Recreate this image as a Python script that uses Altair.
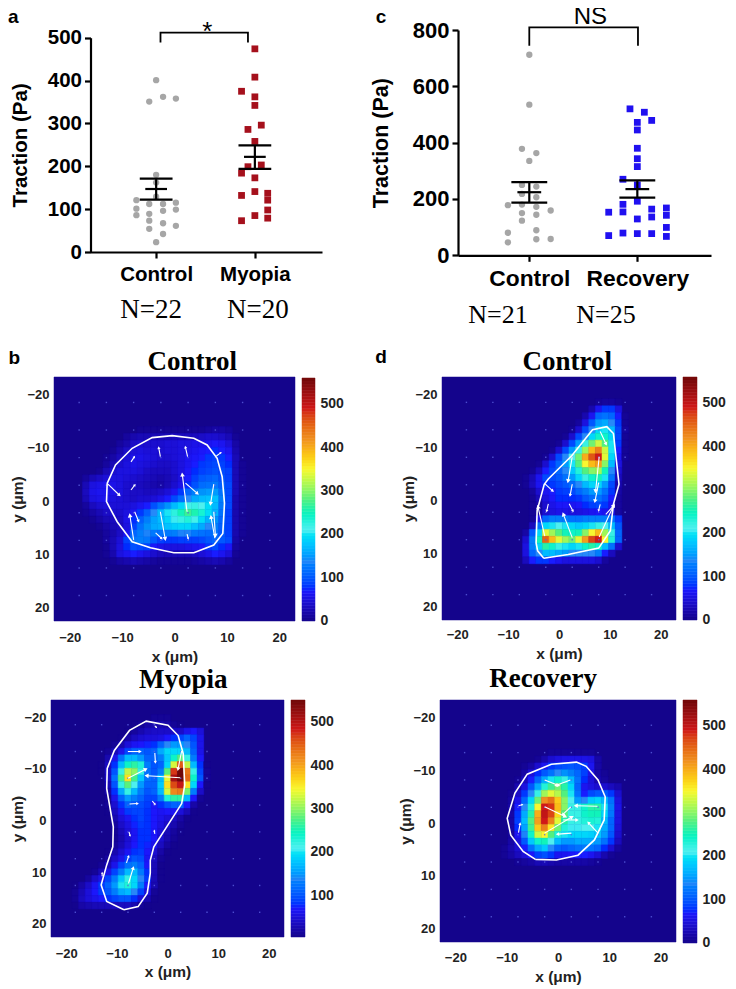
import math
import altair as alt
import pandas as pd

W, H = 720, 978
SANS = "Liberation Sans"
SERIF = "Liberation Serif"

# ---------- scatter data (Pa) ----------
a_ctrl_x = [1, 1.07, 1.2, .93, 1, 1, .8, .93, 1.07, 1.2, .8, 1.2, 1.07, .93, .8, .93, 1.07, 1.2, .93, 1.07, 1, 1]
a_ctrl_y = [401, 362, 358, 351, 180, 162, 121, 112, 112, 115, 101, 99, 96, 89, 86, 73, 67, 61, 54, 42, 23, 129]
a_myo_x = [2, 2, 1.865, 2, 2, 1.93, 2.065, 2, 1.93, 2.065, 1.865, 2, 1.865, 2, 2.13, 2.13, 2.13, 2.13, 2, 1.865]
a_myo_y = [474, 408, 375, 362, 342, 286, 296, 258, 199, 203, 184, 173, 132, 141, 137, 121, 98, 79, 85, 73]
a_stats = [(1, 147, 171, 122), (2, 222, 249, 194)]
a_bracket = [(1.044, 489), (1.044, 512), (1.93, 512), (1.93, 489)]

c_ctrl_x = [1, 1, .932, 1.065, 1, .932, 1.065, .932, 1.065, .802, .932, 1.065, 1.198, .932, 1.065, .932, 1.065, .802, 1.065, 1.198, .802]
c_ctrl_y = [712, 535, 378, 363, 335, 250, 244, 218, 206, 178, 180, 172, 159, 150, 144, 123, 89, 80, 57, 58, 46]
c_rec_x = [1.932, 2.065, 2.133, 2, 2, 2, 2, 2, 1.867, 2, 1.867, 2, 1.735, 1.867, 2.133, 2.269, 2.133, 2.269, 2, 2.269, 1.867, 2, 2.133, 1.735, 2.269]
c_rec_y = [520, 508, 479, 472, 445, 380, 343, 315, 270, 250, 181, 192, 153, 154, 164, 168, 136, 142, 129, 99, 79, 77, 77, 70, 67]
c_stats = [(1, 224, 260, 187), (2, 235, 266, 205)]
c_bracket = [(1, 744), (1, 809), (2.006, 809), (2.006, 744)]

# ---------- heat maps (Pa), nodes every 1.3 um; first column / first row in units of 1.3 um ----------
STEP = 1.3
heat_b1_start = (-14, -10)
heat_b1 = [
    [0, 0, 0, 0, 0, 0, 0, 0, 0, 5, 5, 5, 5, 5, 5, 5, 5, 5, 5, 10, 15, 15, 10, 0, 0],
    [0, 0, 0, 0, 0, 0, 0, 10, 20, 25, 25, 25, 25, 25, 30, 30, 30, 30, 35, 40, 40, 35, 25, 5, 0],
    [0, 0, 0, 0, 0, 0, 10, 20, 35, 40, 40, 40, 40, 45, 45, 50, 50, 55, 55, 60, 65, 60, 45, 15, 0],
    [0, 0, 0, 0, 0, 5, 20, 35, 45, 50, 45, 45, 40, 45, 45, 50, 55, 60, 65, 70, 75, 70, 60, 20, 0],
    [0, 0, 0, 0, 5, 15, 30, 45, 55, 55, 50, 45, 40, 40, 45, 50, 60, 65, 70, 80, 85, 80, 70, 25, 0],
    [0, 0, 0, 0, 10, 25, 40, 50, 55, 50, 45, 40, 35, 35, 40, 50, 60, 70, 80, 85, 90, 85, 75, 25, 5],
    [0, 0, 0, 5, 25, 40, 50, 50, 50, 45, 35, 30, 30, 30, 40, 50, 65, 75, 85, 90, 95, 90, 85, 25, 5],
    [0, 10, 25, 35, 45, 50, 50, 45, 40, 35, 30, 25, 20, 25, 35, 50, 70, 85, 100, 105, 110, 95, 85, 25, 5],
    [0, 25, 50, 55, 60, 55, 50, 40, 35, 30, 25, 20, 15, 25, 40, 55, 75, 95, 115, 120, 125, 105, 90, 25, 5],
    [0, 30, 55, 60, 60, 55, 50, 40, 35, 35, 30, 30, 35, 45, 60, 80, 110, 130, 145, 150, 150, 120, 90, 25, 5],
    [0, 25, 50, 55, 60, 50, 45, 40, 35, 40, 40, 45, 55, 70, 90, 115, 140, 160, 170, 175, 175, 130, 90, 20, 5],
    [0, 10, 30, 40, 45, 45, 45, 45, 50, 60, 70, 95, 120, 145, 170, 190, 215, 220, 210, 195, 170, 125, 90, 20, 5],
    [0, 5, 15, 25, 35, 40, 40, 50, 60, 80, 105, 140, 170, 200, 225, 250, 270, 255, 235, 195, 165, 120, 85, 20, 5],
    [0, 0, 5, 15, 25, 30, 35, 55, 75, 105, 130, 155, 170, 190, 205, 220, 230, 215, 195, 165, 145, 110, 85, 20, 5],
    [0, 0, 0, 5, 15, 25, 30, 50, 85, 120, 145, 160, 165, 175, 185, 190, 190, 175, 160, 140, 130, 105, 85, 20, 5],
    [0, 0, 0, 0, 10, 20, 35, 60, 110, 130, 135, 125, 120, 125, 130, 135, 135, 125, 120, 115, 120, 100, 85, 20, 5],
    [0, 0, 0, 0, 10, 25, 45, 85, 125, 130, 125, 100, 85, 80, 80, 85, 85, 85, 90, 100, 110, 100, 90, 15, 0],
    [0, 0, 0, 0, 5, 25, 50, 75, 95, 90, 85, 65, 55, 50, 50, 50, 55, 60, 65, 80, 90, 75, 65, 10, 0],
    [0, 0, 0, 0, 5, 20, 50, 60, 70, 60, 50, 40, 30, 25, 25, 25, 25, 35, 45, 55, 70, 60, 45, 5, 0],
    [0, 0, 0, 0, 0, 5, 15, 20, 25, 20, 15, 10, 5, 5, 5, 5, 5, 10, 15, 20, 25, 20, 10, 0, 0],
]
heat_d1_start = (-6, -14)
heat_d1 = [
    [0, 0, 0, 0, 0, 0, 0, 0, 0, 0, 0, 0, 5, 10, 10, 5, 0],
    [0, 0, 0, 0, 0, 0, 0, 0, 0, 0, 0, 20, 60, 80, 80, 50, 0],
    [0, 0, 0, 0, 0, 0, 0, 0, 0, 0, 20, 60, 110, 120, 110, 70, 5],
    [0, 0, 0, 0, 0, 0, 0, 0, 0, 10, 50, 100, 150, 160, 140, 80, 5],
    [0, 0, 0, 0, 0, 0, 0, 0, 5, 40, 90, 140, 190, 200, 170, 90, 10],
    [0, 0, 0, 0, 0, 0, 0, 5, 40, 90, 140, 190, 240, 240, 190, 90, 5],
    [0, 0, 0, 0, 0, 0, 5, 40, 90, 150, 220, 290, 330, 280, 200, 80, 5],
    [0, 0, 0, 0, 0, 5, 40, 90, 150, 220, 310, 390, 430, 330, 200, 70, 5],
    [0, 0, 0, 0, 5, 40, 90, 140, 210, 290, 400, 460, 490, 340, 190, 60, 5],
    [0, 0, 0, 5, 40, 80, 110, 150, 200, 280, 350, 390, 410, 300, 170, 50, 0],
    [0, 0, 5, 30, 70, 90, 110, 140, 180, 230, 280, 300, 310, 250, 140, 40, 0],
    [0, 5, 25, 60, 90, 90, 100, 120, 150, 190, 220, 240, 250, 200, 120, 30, 0],
    [0, 5, 30, 60, 75, 80, 90, 100, 115, 140, 170, 190, 190, 150, 90, 20, 0],
    [0, 0, 10, 40, 60, 70, 80, 85, 90, 110, 130, 150, 150, 120, 80, 15, 0],
    [0, 0, 5, 25, 50, 65, 75, 75, 75, 80, 100, 115, 120, 100, 70, 10, 0],
    [0, 0, 5, 15, 40, 55, 65, 65, 60, 65, 75, 85, 90, 80, 60, 10, 0],
    [0, 0, 5, 15, 40, 50, 55, 55, 50, 50, 55, 60, 65, 60, 50, 10, 0],
    [0, 0, 5, 60, 110, 130, 130, 130, 120, 120, 130, 130, 130, 130, 120, 80, 0],
    [0, 0, 30, 120, 190, 200, 210, 200, 190, 180, 190, 200, 220, 210, 170, 100, 0],
    [0, 15, 100, 190, 340, 310, 280, 250, 240, 250, 300, 350, 390, 310, 220, 110, 0],
    [0, 40, 130, 250, 450, 390, 340, 310, 290, 340, 410, 470, 490, 350, 230, 110, 0],
    [0, 50, 130, 190, 260, 240, 220, 200, 190, 200, 240, 260, 240, 170, 120, 40, 0],
    [0, 50, 110, 140, 170, 170, 160, 150, 140, 140, 140, 140, 130, 70, 30, 0, 0],
    [0, 30, 70, 80, 80, 70, 60, 50, 50, 50, 50, 50, 40, 10, 0, 0, 0],
]
heat_b2_start = (-14, -15)
heat_b2 = [
    [0, 0, 0, 0, 0, 0, 0, 0, 0, 0, 0, 0, 10, 10, 10],
    [0, 0, 0, 0, 0, 0, 0, 0, 0, 5, 10, 20, 25, 25, 20, 10, 5],
    [0, 0, 0, 0, 0, 0, 0, 0, 5, 15, 25, 35, 40, 40, 40, 40, 40, 60, 70, 50],
    [0, 0, 0, 0, 0, 0, 0, 5, 20, 35, 45, 50, 50, 55, 70, 80, 90, 110, 90, 60],
    [0, 0, 0, 0, 0, 0, 10, 25, 50, 65, 70, 75, 80, 110, 140, 150, 150, 140, 100, 60],
    [0, 0, 0, 0, 0, 10, 30, 60, 90, 110, 110, 100, 110, 160, 190, 190, 190, 170, 110, 60],
    [0, 0, 0, 0, 0, 25, 60, 120, 170, 170, 150, 110, 110, 130, 180, 240, 280, 220, 130, 70],
    [0, 0, 0, 0, 5, 35, 80, 170, 240, 260, 230, 130, 100, 110, 190, 330, 450, 320, 170, 80, 5],
    [0, 0, 0, 0, 5, 40, 100, 220, 320, 300, 220, 120, 100, 130, 280, 470, 550, 430, 220, 90, 10],
    [0, 0, 0, 0, 0, 40, 120, 270, 360, 270, 180, 120, 110, 170, 340, 510, 550, 440, 240, 100, 10],
    [0, 0, 0, 0, 0, 30, 100, 220, 280, 210, 150, 110, 110, 180, 360, 460, 490, 360, 190, 70, 5],
    [0, 0, 0, 0, 0, 20, 80, 160, 220, 170, 130, 100, 110, 170, 330, 420, 430, 290, 130, 40],
    [0, 0, 0, 0, 0, 10, 60, 110, 150, 130, 110, 90, 90, 130, 230, 260, 260, 170, 70, 10],
    [0, 0, 0, 0, 0, 10, 45, 80, 110, 100, 95, 85, 70, 80, 100, 110, 110, 70, 20],
    [0, 0, 0, 0, 0, 5, 35, 65, 85, 90, 90, 80, 70, 65, 70, 65, 50, 30, 5],
    [0, 0, 0, 0, 0, 0, 25, 50, 65, 80, 90, 80, 70, 60, 50, 35, 20, 5],
    [0, 0, 0, 0, 0, 0, 15, 40, 55, 75, 85, 80, 70, 55, 40, 25, 10],
    [0, 0, 0, 0, 0, 0, 10, 30, 50, 65, 80, 80, 70, 50, 30, 15, 5],
    [0, 0, 0, 0, 0, 0, 10, 25, 45, 65, 80, 80, 70, 45, 25, 10],
    [0, 0, 0, 0, 0, 0, 15, 30, 50, 70, 80, 75, 60, 35, 15, 5],
    [0, 0, 0, 0, 0, 5, 25, 45, 65, 80, 85, 70, 45, 20, 5],
    [0, 0, 0, 0, 0, 15, 40, 60, 85, 100, 95, 65, 35, 10],
    [0, 0, 0, 0, 10, 30, 60, 90, 120, 130, 110, 70, 30, 5],
    [0, 0, 0, 10, 30, 60, 90, 130, 170, 170, 130, 80, 30, 5],
    [0, 0, 15, 40, 60, 90, 130, 180, 220, 190, 140, 85, 30, 5],
    [5, 20, 40, 65, 85, 110, 150, 200, 230, 190, 130, 70, 25],
    [10, 30, 50, 70, 85, 100, 130, 160, 170, 140, 90, 50, 10],
    [10, 35, 50, 60, 70, 80, 90, 100, 100, 80, 50, 25, 5],
    [5, 20, 25, 30, 30, 30, 35, 35, 35, 25, 10, 5],
]
heat_d2_start = (-10, -10)
heat_d2 = [
    [0, 0, 0, 0, 0, 0, 0, 0, 0, 5, 5, 5, 5, 5, 5, 5],
    [0, 0, 0, 0, 0, 0, 0, 5, 20, 40, 50, 55, 55, 55, 55, 50, 15],
    [0, 0, 0, 0, 0, 5, 15, 40, 60, 80, 90, 95, 100, 95, 85, 60, 15],
    [0, 0, 0, 0, 0, 15, 45, 75, 100, 120, 140, 145, 130, 110, 85, 55, 15, 5],
    [0, 0, 0, 0, 5, 30, 70, 110, 160, 200, 240, 220, 170, 120, 75, 45, 20, 10],
    [0, 0, 0, 0, 20, 50, 100, 160, 230, 270, 290, 260, 190, 110, 60, 50, 40, 40, 30, 20],
    [0, 0, 0, 5, 35, 80, 140, 220, 310, 340, 320, 280, 200, 120, 70, 90, 100, 100, 80, 40],
    [0, 0, 0, 10, 55, 110, 190, 290, 420, 440, 380, 300, 210, 150, 140, 180, 190, 170, 120, 50],
    [0, 0, 0, 15, 70, 140, 230, 350, 490, 480, 390, 300, 220, 220, 240, 260, 260, 200, 130, 55],
    [0, 0, 0, 15, 80, 160, 260, 400, 500, 470, 370, 280, 220, 220, 240, 250, 250, 190, 125, 50],
    [0, 0, 0, 15, 85, 170, 280, 410, 490, 430, 340, 260, 220, 220, 230, 235, 230, 170, 110, 50],
    [0, 0, 0, 15, 75, 155, 270, 380, 430, 360, 290, 230, 205, 205, 210, 210, 200, 160, 110, 45],
    [0, 0, 0, 10, 60, 135, 240, 330, 350, 280, 230, 200, 190, 190, 190, 185, 180, 150, 100, 40],
    [0, 0, 0, 15, 50, 100, 180, 240, 250, 210, 170, 150, 150, 160, 160, 160, 150, 120, 80, 30],
    [0, 0, 5, 20, 40, 70, 120, 160, 180, 140, 110, 100, 110, 120, 125, 120, 110, 75, 40, 10],
    [0, 0, 5, 15, 30, 45, 65, 85, 95, 80, 60, 60, 65, 70, 70, 60, 45, 20, 5],
    [0, 0, 0, 0, 5, 10, 15, 25, 25, 20, 15, 15, 15, 15, 15, 10, 5],
]

# ---------- cell outlines (um) ----------
line_b1 = [(-12.85, -2.96), (-11.26, -6.42), (-8.08, -9.56), (-4.26, -11.57), (-.45, -11.95), (3.69, -11.45), (6.23, -10.19), (8.14, -7.67), (9.1, -4.21), (9.54, .82), (9.22, 6.48), (7.5, 8.68), (3.69, 10.13), (-.13, 10.13), (-4.58, 9.18), (-8.08, 8.05), (-10.94, 4.28), (-12.98, .5), (-12.85, -2.96)]
line_d1 = [(-3, 11.3), (-4.2, 9.9), (-4.5, 8.4), (-4.3, 2.3), (-2.9, -2.7), (-2.1, -3.7), (2.5, -8.1), (6.6, -13), (9.4, -13.6), (10.7, -12.3), (11.8, -2.7), (10.7, 1.1), (10.1, 6.1), (7.8, 9.4), (1.8, 10.6), (-3, 11.3)]
line_b2 = [(-8.6, 17.7), (-5.8, 17.1), (-4, 14.5), (-3.4, 10.6), (-3.4, 8.1), (-2.7, 5.5), (2.8, -2.9), (3.4, -6.5), (3.1, -12.6), (2.1, -16.1), (.1, -18.1), (-4.2, -18.9), (-7.5, -17.1), (-10.5, -13.2), (-11.9, -9.7), (-12, -5.8), (-10.7, 1.6), (-10.8, 5.5), (-12, 9), (-13.1, 12.9), (-12, 16.1), (-8.6, 17.7)]
line_d2 = [(-4.4, 7.3), (-.3, 7.4), (3.9, 6.5), (7.1, 3.6), (9, -.2), (9.2, -4.6), (7.8, -7.8), (5.5, -10.4), (3.6, -11.2), (-1.3, -10.8), (-6, -8.9), (-8.4, -5.3), (-9.9, -.5), (-9.2, 2.7), (-6.8, 5.8), (-4.4, 7.3)]

# ---------- traction arrows: x0, y0, x1, y1 (um) ----------
arrows_b1 = [(2.4, 2.4, 1.5, -4.5), (2.1, -3, 4.3, -1.1), (7.5, -2.8, 6.9, .8), (7.7, 7.4, 7, 3.5), (7.5, 2.4, 7.8, 6.8), (-7.8, 7.7, -8.5, 3.2), (-7.6, 2.4, -6.9, 4.1), (-2.7, 2.4, -1.8, 7.4), (-3.6, 6.4, -2.5, 7.4), (2.4, 6.6, 2.6, 7.4), (-12.7, -2.8, -10.6, -.8), (-8.3, -1.7, -7.6, -2.6), (-8.3, -7, -7.7, -7.9), (-2.7, -8, -3, -9.6), (2.5, -8, 2.1, -9.7), (8, -8.1, 8.8, -8.7)]
arrows_d1 = [(2.6, -7.9, 1.8, -3.4), (7.9, -7.9, 7.2, -1.5), (8.1, -12.7, 9.2, -10.4), (7.8, -3, 7.1, .4), (-2.8, -2.8, -1.3, -1.5), (2.6, -2.7, 2.2, -.7), (-2.1, 1, -2.4, 2.3), (2, 1, 2.7, 2.3), (8.1, 1.1, 7.8, 2.2), (-2.8, 7.1, -4.1, 1.7), (2.6, 7.4, .9, 3.1), (7.9, 7.3, 10.7, 1.4), (9.2, 3, 10.7, 1.4)]
arrows_b2 = [(2.5, -7.9, -4, -8.3), (-7.8, -7.8, -4.4, -9.5), (2.8, -13.1, 2.1, -9.7), (-7.8, -13, -5.5, -13), (-2.5, -12.7, -2.4, -11), (-2.5, -18, -2.2, -17.7), (-7.5, -2.8, -6, -2.9), (-3, -3.4, -2.5, -2.8), (-7.6, 2.6, -7.4, 3.3), (-2.5, 3, -2.6, 2.4), (-8.1, 8.6, -7.7, 7.4), (-7.7, 12.6, -6.8, 9.7), (-12.9, 11.2, -12.9, 10.6)]
arrows_d2 = [(-2.6, -2.7, 1.3, -.9), (-2.6, 2.3, 2.6, -.7), (-2.6, -7.8, 0, -6.8), (2.4, -7.8, -.3, -6.8), (7.7, -2.8, 3.6, -2.9), (2.5, -2.7, 1, -1.3), (2.6, 2.3, 0, 2.5), (7.8, 2.3, 6, .4), (1, -.2, 3.6, -.2), (-7.7, 2.2, -7.4, .6), (-7.7, -2.9, -7, -3.1)]

JET = ["#14048c", "#1c18ff", "#2a88f8", "#50f0f0", "#50f080", "#f8f830", "#f09020", "#d01818", "#700808"]
TICKS = [-20, -10, 0, 10, 20]


def frame(x, y, **extra):
    return pd.DataFrame({"x": x, "y": y, **extra})


def scatter_panel(groups, stats, bracket, notes, px_left, px_right, px_top, px_bottom, xdom, ymax, yvals,
                  tick_fs, cat_fs, title_fs, cats, tpad):
    xs = alt.Scale(domain=xdom, range=[px_left - 8, px_right - 8], nice=False)
    ys = alt.Scale(domain=[0, ymax], range=[px_bottom - 8, px_top - 8], nice=False)
    xe = alt.X("x:Q", scale=xs, axis=None)
    ye = alt.Y("y:Q", scale=ys, axis=None)
    expr = f"datum.value == 1 ? '{cats[0]}' : '{cats[1]}'"
    axes = alt.Chart(frame([1, 2], [0, 0])).mark_point(opacity=0).encode(
        x=alt.X("x:Q", scale=xs, title=None, axis=alt.Axis(
            values=[1, 2], labelExpr=expr, orient="bottom", offset=px_bottom - 8 - H, grid=False,
            domainColor="black", domainWidth=2.2, tickColor="black", tickWidth=2.2, tickSize=6,
            labelFont=SANS, labelFontWeight="bold", labelFontSize=cat_fs, labelColor="black", labelPadding=6)),
        y=alt.Y("y:Q", scale=ys, title="Traction (Pa)", axis=alt.Axis(
            values=yvals, orient="left", offset=-(px_left - 8), grid=False, domainColor="black", domainWidth=2.2,
            tickColor="black", tickWidth=2.2, tickSize=6, labelFont=SANS, labelFontWeight="bold",
            labelFontSize=tick_fs, labelColor="black", labelPadding=3, titleFont=SANS, titleFontWeight="bold",
            titleFontSize=title_fs, titleColor="black", titlePadding=tpad)),
    )
    layers = [axes]
    for gx, gy, shape, color, size in groups:
        layers.append(alt.Chart(frame(gx, gy)).mark_point(shape=shape, filled=True, color=color, size=size, opacity=1).encode(x=xe, y=ye))
    rows = []
    for c, m, u, l in stats:
        rows += [dict(x=c - .166, x2=c + .166, y=u, y2=u), dict(x=c - .166, x2=c + .166, y=l, y2=l),
                 dict(x=c - .11, x2=c + .11, y=m, y2=m), dict(x=c, x2=c, y=l, y2=u)]
    layers.append(alt.Chart(pd.DataFrame(rows)).mark_rule(color="black", strokeWidth=2.2).encode(x=xe, x2="x2:Q", y=ye, y2="y2:Q"))
    layers.append(alt.Chart(frame([p[0] for p in bracket], [p[1] for p in bracket], o=list(range(4)))).mark_line(color="black", strokeWidth=1.8).encode(x=xe, y=ye, order="o:Q"))
    for text, x, y, font, size, weight in notes:
        layers.append(alt.Chart(frame([x], [y], t=[text])).mark_text(font=font, fontSize=size, fontWeight=weight, color="black", baseline="middle", align="center").encode(x=xe, y=ye, text="t:N"))
    return layers


def heat_panel(grid, start, outline, arrows, notes, left, right, top, bottom, dom, bar_vals, bar, lab_x, tpad_x, tpad_y):
    xs = alt.Scale(domain=[-23, 23], range=[left - 8, right - 8], nice=False)
    ys = alt.Scale(domain=[-23, 23], range=[top - 8, bottom - 8], nice=False)
    xe = alt.X("x:Q", scale=xs, axis=None)
    ye = alt.Y("y:Q", scale=ys, axis=None)
    lo, hi = dom
    stops = [lo + (hi - lo) * f for f in (0, .125, .25, .375, .5, .625, .75, .875, 1)]
    cs = alt.Scale(domain=stops, range=JET, clamp=True)
    rows = [dict(x=-23, x2=23, y=-23, y2=23, v=lo)]
    for j, row in enumerate(grid):
        yv = (start[1] + j) * STEP
        for i, val in enumerate(row):
            if val > 0:
                xv = (start[0] + i) * STEP
                rows.append(dict(x=xv - STEP / 2, x2=xv + STEP / 2, y=yv - STEP / 2, y2=yv + STEP / 2, v=max(val, lo)))
    base = alt.Chart(pd.DataFrame(rows)).mark_rect(strokeWidth=0.5, opacity=1).encode(
        x=alt.X("x:Q", scale=xs, title="x (μm)", axis=alt.Axis(
            values=TICKS, orient="bottom", offset=bottom - 8 - H, grid=False, ticks=False, domain=False,
            labelFont=SANS, labelFontWeight="bold", labelFontSize=13, labelColor="#222", labelPadding=lab_x,
            titleFont=SANS, titleFontWeight="bold", titleFontSize=15.5, titleColor="#222", titlePadding=tpad_x)),
        x2="x2:Q",
        y=alt.Y("y:Q", scale=ys, title="y (μm)", axis=alt.Axis(
            values=TICKS, orient="left", offset=-(left - 8), grid=False, ticks=False, domain=False,
            labelFont=SANS, labelFontWeight="bold", labelFontSize=13, labelColor="#222", labelPadding=5, labelOffset=2,
            titleFont=SANS, titleFontWeight="bold", titleFontSize=15.5, titleColor="#222", titlePadding=tpad_y)),
        y2="y2:Q",
        color=alt.Color("v:Q", scale=cs, legend=None),
        stroke=alt.Stroke("v:Q", scale=cs, legend=None),
    )
    layers = [base]
    # colour bar, drawn through the same colour scale with its own value axis
    x0, x1, bt, bb = bar
    bx = alt.Scale(domain=[0, 1], range=[x0 - 8, x1 - 8], nice=False)
    by = alt.Scale(domain=[lo, hi], range=[bb - 8, bt - 8], nice=False)
    bstep = (hi - lo) / 80
    levels = [lo + k * bstep for k in range(80)]
    layers.append(alt.Chart(pd.DataFrame({"a": [0] * 80, "b": [1] * 80, "v": levels, "w": [l + bstep for l in levels], "m": [l + bstep / 2 for l in levels]})).mark_rect(strokeWidth=0.5).encode(
        x=alt.X("a:Q", scale=bx, axis=None), x2="b:Q",
        y=alt.Y("v:Q", scale=by, title=None, axis=alt.Axis(
            values=bar_vals, orient="right", offset=x1 - 8 - W, grid=False, ticks=False, domain=False,
            labelFont=SANS, labelFontWeight="bold", labelFontSize=14, labelColor="#222", labelPadding=5)),
        y2="w:Q",
        color=alt.Color("m:Q", scale=cs, legend=None),
        stroke=alt.Stroke("m:Q", scale=cs, legend=None),
    ))
    nodes = [(x, y) for x in (-18.2, -13, -7.8, -2.6, 2.6, 7.8, 13, 18.2) for y in (-18.2, -13, -7.8, -2.6, 2.6, 7.8, 13, 18.2)]
    layers.append(alt.Chart(frame([n[0] for n in nodes], [n[1] for n in nodes])).mark_point(shape="square", filled=True, color="#5a60e0", size=2, opacity=.8).encode(x=xe, y=ye))
    layers.append(alt.Chart(frame([p[0] for p in outline], [p[1] for p in outline], o=list(range(len(outline))))).mark_line(color="white", strokeWidth=1.6).encode(x=xe, y=ye, order="o:Q"))
    ar = pd.DataFrame(arrows, columns=["x", "y", "x2", "y2"])
    ar["len"] = ((ar.x2 - ar.x) ** 2 + (ar.y2 - ar.y) ** 2) ** .5
    ar["ang"] = [math.degrees(math.atan2(a.x2 - a.x, -(a.y2 - a.y))) % 360 for a in ar.itertuples()]
    ar["sz"] = (ar.len * 5 + 2).clip(upper=22)
    layers.append(alt.Chart(ar).mark_rule(color="white", strokeWidth=1.1).encode(x=xe, x2="x2:Q", y=ye, y2="y2:Q"))
    layers.append(alt.Chart(ar).mark_point(shape="triangle", filled=True, color="white", opacity=1).encode(
        x=alt.X("x2:Q", scale=xs, axis=None), y=alt.Y("y2:Q", scale=ys, axis=None),
        angle=alt.Angle("ang:Q", scale=None), size=alt.Size("sz:Q", scale=None)))
    for text, x, y, font, size, weight in notes:
        layers.append(alt.Chart(frame([x], [y], t=[text])).mark_text(font=font, fontSize=size, fontWeight=weight, color="black", baseline="middle", align="center").encode(x=xe, y=ye, text="t:N"))
    return layers


layers = []
layers += scatter_panel(
    [(a_ctrl_x, a_ctrl_y, "circle", "#a6a6a6", 40), (a_myo_x, a_myo_y, "square", "#a5101c", 46)],
    a_stats, a_bracket,
    [("a", -.447, 548, SANS, 19, "bold"), ("*", 1.517, 514, SANS, 26, "normal"),
     ("N=22", .95, -135, SERIF, 27, "normal"), ("N=20", 2.03, -135, SERIF, 27, "normal")],
    90.5, 322, 37.7, 252, [.335, 2.68], 500, [0, 100, 200, 300, 400, 500], 20.5, 20.5, 20.5, ["Control", "Myopia"], 17)
layers += scatter_panel(
    [(c_ctrl_x, c_ctrl_y, "circle", "#a6a6a6", 40), (c_rec_x, c_rec_y, "square", "#2010f0", 46)],
    c_stats, c_bracket,
    [("c", -.373, 846, SANS, 19, "bold"), ("NS", 1.565, 846, SANS, 24, "normal"),
     ("N=21", .71, -212, SERIF, 26, "normal"), ("N=25", 1.71, -212, SERIF, 26, "normal")],
    458, 711, 30, 255.3, [.34, 2.682], 800, [0, 200, 400, 600, 800], 22, 22.8, 21.5, ["Control", "Recovery"], 20)

VALS = [0, 100, 200, 300, 400, 500]
layers += heat_panel(heat_b1, heat_b1_start, line_b1, arrows_b1,
                     [("Control", 3.4, -25.9, SERIF, 27, "bold"), ("b", -30.6, -26.6, SANS, 19, "bold")],
                     54, 295, 377, 621, (-1, 560), VALS, (302, 315, 378, 621), 10, 5, 1)
layers += heat_panel(heat_d1, heat_d1_start, line_d1, arrows_d1,
                     [("Control", 1.6, -25.8, SERIF, 27, "bold"), ("d", -35, -26.8, SANS, 19, "bold")],
                     442, 676, 377, 620, (-1, 560), VALS, (683, 697, 377, 620), 8, 5, -2)
layers += heat_panel(heat_b2, heat_b2_start, line_b2, arrows_b2,
                     [("Myopia", 3.1, -26.9, SERIF, 27, "bold")],
                     51, 284, 700, 937, (4, 550), VALS[1:], (291, 305, 700, 937), 10, 4, -2)
layers += heat_panel(heat_d2, heat_d2_start, line_d2, arrows_d2,
                     [("Recovery", -2.9, -26.9, SERIF, 27, "bold")],
                     440, 676, 700, 942, (-1, 560), VALS, (683, 697, 700, 943), 9, 5, -1)

chart = (
    alt.layer(*layers)
    .resolve_scale(x="independent", y="independent", color="independent", stroke="independent", size="independent", angle="independent")
    .resolve_axis(x="independent", y="independent")
    .properties(width=W, height=H, padding=0, autosize=alt.AutoSizeParams(type="none"), background="white")
    .configure_view(stroke=None)
)
chart.save("out.html", embed_options={"renderer": "svg", "actions": False})
